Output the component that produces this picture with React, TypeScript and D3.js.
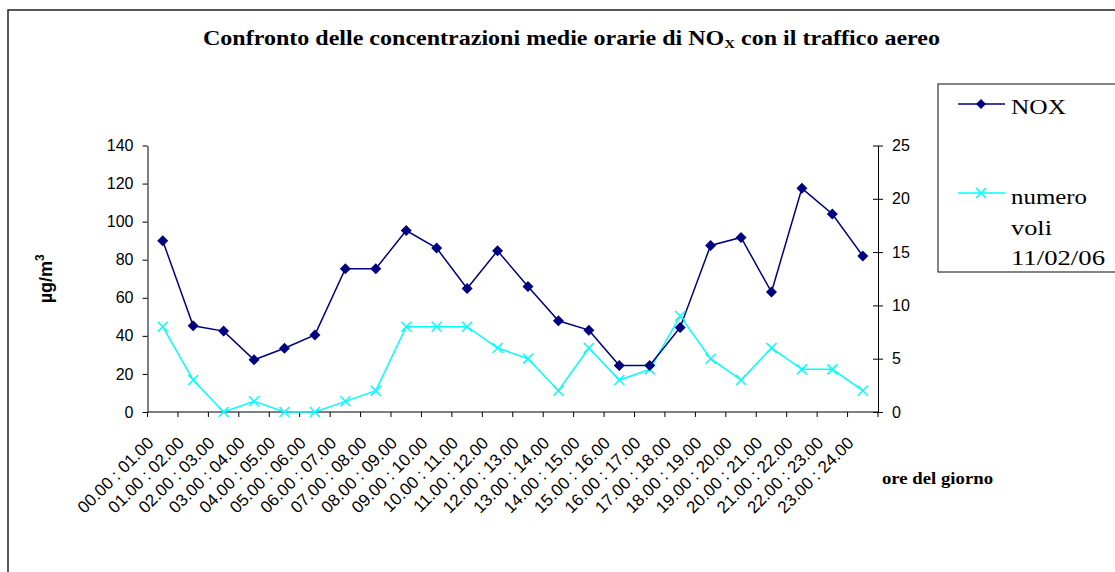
import React, { useEffect, useRef } from "react";
import * as d3 from "d3";

// hourly slots
const hours = [
  "00.00 : 01.00", "01.00 : 02.00", "02.00 : 03.00", "03.00 : 04.00",
  "04.00 : 05.00", "05.00 : 06.00", "06.00 : 07.00", "07.00 : 08.00",
  "08.00 : 09.00", "09.00 : 10.00", "10.00 : 11.00", "11.00 : 12.00",
  "12.00 : 13.00", "13.00 : 14.00", "14.00 : 15.00", "15.00 : 16.00",
  "16.00 : 17.00", "17.00 : 18.00", "18.00 : 19.00", "19.00 : 20.00",
  "20.00 : 21.00", "21.00 : 22.00", "22.00 : 23.00", "23.00 : 24.00",
];

// NOx hourly average (µg/m3)
const noxValues = [
  90, 45.3, 42.5, 27.4, 33.5, 40.5, 75.3, 75.3, 95.3, 86.1, 64.9, 84.7,
  65.9, 47.9, 43, 24.4, 24.4, 44.4, 87.5, 91.7, 63, 117.5, 104, 82,
];

// number of flights 11/02/06
const flights = [8, 3, 0, 1, 0, 0, 1, 2, 8, 8, 8, 6, 5, 2, 6, 3, 4, 9, 5, 3, 6, 4, 4, 2];

const leftTicks = [0, 20, 40, 60, 80, 100, 120, 140];
const rightTicks = [0, 5, 10, 15, 20, 25];

const NAVY = "#000080";
const CYAN = "#00FFFF";
const SANS = "Liberation Sans, Arial, sans-serif";
const SERIF = "Liberation Serif, Times New Roman, serif";

const App = () => {
  const svgRef = useRef(null);

  useEffect(() => {
    const svg = d3.select(svgRef.current);
    svg.selectAll("*").remove();

    const left = 147.5;
    const right = 878;
    const top = 145.5;
    const bottom = 412;

    const x = d3.scaleBand().domain(hours).range([left, right]).padding(0);
    const cx = (d) => x(d) + x.bandwidth() / 2;
    const yL = d3.scaleLinear().domain([0, 140]).range([bottom, top]);
    const yR = d3.scaleLinear().domain([0, 25]).range([bottom, top]);

    // outer frame
    svg
      .append("rect")
      .attr("x", 8)
      .attr("y", 10)
      .attr("width", 1200)
      .attr("height", 700)
      .attr("fill", "none")
      .attr("stroke", "#222")
      .attr("stroke-width", 1.5);

    // title
    const title = svg
      .append("text")
      .attr("x", 203)
      .attr("y", 45)
      .attr("font-family", SERIF)
      .attr("font-weight", "bold")
      .attr("font-size", 21)
      .attr("textLength", 737)
      .attr("lengthAdjust", "spacingAndGlyphs");
    title.append("tspan").text("Confronto delle concentrazioni medie orarie di NO");
    title.append("tspan").attr("font-size", 13).attr("dy", 3).text("X");
    title.append("tspan").attr("dy", -3).text(" con il traffico aereo");

    // left axis
    const gL = svg
      .append("g")
      .attr("transform", `translate(${left},0)`)
      .call(d3.axisLeft(yL).tickValues(leftTicks).tickSize(5).tickSizeOuter(0).tickPadding(9));
    gL.selectAll("text").attr("font-family", SANS).attr("font-size", 16).attr("fill", "#000");
    gL.selectAll("line, path").attr("stroke", "#000");

    // right axis, ticks cross the line
    const gR = svg
      .append("g")
      .attr("transform", `translate(${right},0)`)
      .call(d3.axisRight(yR).tickValues(rightTicks).tickSize(5).tickSizeOuter(0).tickPadding(9));
    gR.selectAll(".tick line").attr("x1", -5);
    gR.selectAll("text").attr("font-family", SANS).attr("font-size", 16).attr("fill", "#000");
    gR.selectAll("line, path").attr("stroke", "#000");

    // x axis
    svg
      .append("line")
      .attr("x1", left)
      .attr("x2", right)
      .attr("y1", bottom)
      .attr("y2", bottom)
      .attr("stroke", "#000");
    svg
      .append("g")
      .selectAll("line")
      .data(hours.concat(["end"]))
      .join("line")
      .attr("x1", (d, i) => (i < hours.length ? x(d) : right))
      .attr("x2", (d, i) => (i < hours.length ? x(d) : right))
      .attr("y1", bottom)
      .attr("y2", bottom + 5)
      .attr("stroke", "#000");

    svg
      .append("g")
      .selectAll("text")
      .data(hours)
      .join("text")
      .attr("transform", (d) => `translate(${cx(d) - 8},${bottom + 32}) rotate(-45)`)
      .attr("text-anchor", "end")
      .attr("font-family", SANS)
      .attr("font-size", 17)
      .text((d) => d);

    // axis titles
    const yt = svg
      .append("text")
      .attr("transform", `translate(52,${(top + bottom) / 2}) rotate(-90)`)
      .attr("text-anchor", "middle")
      .attr("font-family", SANS)
      .attr("font-weight", "bold")
      .attr("font-size", 18);
    yt.append("tspan").text("µg/m");
    yt.append("tspan").attr("font-size", 12).attr("dy", -8).text("3");

    svg
      .append("text")
      .attr("x", 882)
      .attr("y", 484)
      .attr("font-family", SERIF)
      .attr("font-weight", "bold")
      .attr("font-size", 17)
      .attr("textLength", 111)
      .attr("lengthAdjust", "spacingAndGlyphs")
      .text("ore del giorno");

    // series lines
    const noxLine = d3
      .line()
      .x((d, i) => cx(hours[i]))
      .y((d) => yL(d));
    const flightLine = d3
      .line()
      .x((d, i) => cx(hours[i]))
      .y((d) => yR(d));

    svg
      .append("path")
      .datum(flights)
      .attr("fill", "none")
      .attr("stroke", CYAN)
      .attr("stroke-width", 1.5)
      .attr("d", flightLine);

    svg
      .append("path")
      .datum(noxValues)
      .attr("fill", "none")
      .attr("stroke", NAVY)
      .attr("stroke-width", 1.5)
      .attr("d", noxLine);

    const diamond = (px, py, r) =>
      `M${px},${py - r}L${px + r},${py}L${px},${py + r}L${px - r},${py}Z`;
    const cross = (px, py, r) =>
      `M${px - r},${py - r}L${px + r},${py + r}M${px - r},${py + r}L${px + r},${py - r}`;

    svg
      .append("g")
      .selectAll("path")
      .data(flights)
      .join("path")
      .attr("d", (d, i) => cross(cx(hours[i]), yR(d), 5))
      .attr("stroke", CYAN)
      .attr("stroke-width", 1.5)
      .attr("fill", "none");

    svg
      .append("g")
      .selectAll("path")
      .data(noxValues)
      .join("path")
      .attr("d", (d, i) => diamond(cx(hours[i]), yL(d), 5.5))
      .attr("fill", NAVY);

    // legend
    const lg = svg.append("g");
    lg.append("rect")
      .attr("x", 938)
      .attr("y", 84)
      .attr("width", 200)
      .attr("height", 188)
      .attr("fill", "#fff")
      .attr("stroke", "#333")
      .attr("stroke-width", 1.2);
    lg.append("line")
      .attr("x1", 958)
      .attr("x2", 1005)
      .attr("y1", 104)
      .attr("y2", 104)
      .attr("stroke", NAVY)
      .attr("stroke-width", 1.5);
    lg.append("path").attr("d", diamond(981, 104, 5)).attr("fill", NAVY);
    lg.append("line")
      .attr("x1", 958)
      .attr("x2", 1005)
      .attr("y1", 193)
      .attr("y2", 193)
      .attr("stroke", CYAN)
      .attr("stroke-width", 1.5);
    lg.append("path")
      .attr("d", cross(981, 193, 5))
      .attr("stroke", CYAN)
      .attr("stroke-width", 1.5);

    const legendText = [
      { t: "NOX", y: 114, w: 55 },
      { t: "numero", y: 204, w: 76 },
      { t: "voli", y: 235, w: 41 },
      { t: "11/02/06", y: 265, w: 94 },
    ];
    legendText.forEach((d) => {
      lg.append("text")
        .attr("x", 1011)
        .attr("y", d.y)
        .attr("font-family", SERIF)
        .attr("font-size", 22)
        .attr("textLength", d.w)
        .attr("lengthAdjust", "spacingAndGlyphs")
        .text(d.t);
    });
  }, []);

  return (
    <svg
      ref={svgRef}
      width={1115}
      height={572}
      style={{ position: "absolute", left: 0, top: 0, background: "#fff" }}
    ></svg>
  );
};

export default App;
